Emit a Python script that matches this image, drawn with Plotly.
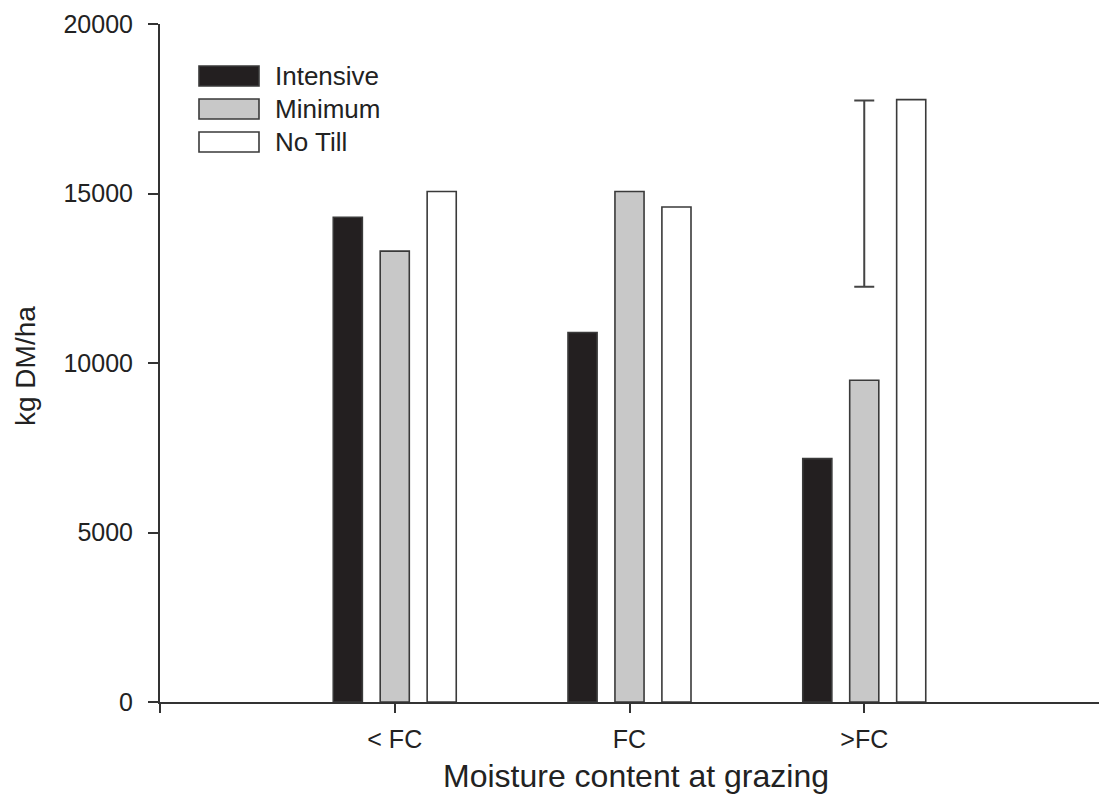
import plotly.graph_objects as go

# ---- data ----
categories = ["< FC", "FC", ">FC"]
cat_pos = [1, 2, 3]
series_names = ["Intensive", "Minimum", "No Till"]
intensive = [14300, 10900, 7180]
minimum = [13300, 15060, 9490]
no_till = [15060, 14600, 17770]
# error bar shown above the >FC group
err_x = [3]
err_low = [12250]
err_high = [17740]
y_ticks = [0, 5000, 10000, 15000, 20000]

fills = ["#231f20", "#c8c8c8", "#ffffff"]
edge = "#3a3a3a"
FONT = "Liberation Sans, Arial, sans-serif"
TXT = "#222222"

W, H = 1099, 794
L, R, T, B = 160, 0, 24, 92
pw, ph = W - L - R, H - T - B

def px_x(x):
    return (x - L) / pw

def px_y(y):
    return 1 - (y - T) / ph

fig = go.Figure()
for name, vals, col in zip(series_names, [intensive, minimum, no_till], fills):
    fig.add_trace(go.Bar(
        x=cat_pos, y=vals, name=name,
        marker=dict(color=col, line=dict(color=edge, width=1.6)),
        showlegend=False,
    ))

mid = [(a + b) / 2 for a, b in zip(err_low, err_high)]
half = [(b - a) / 2 for a, b in zip(err_low, err_high)]
fig.add_trace(go.Scatter(
    x=err_x, y=mid, mode="markers",
    marker=dict(size=1, color="rgba(0,0,0,0)"),
    error_y=dict(type="data", array=half, visible=True, color="#444444",
                 thickness=2, width=10),
    showlegend=False, hoverinfo="skip",
))

# manual legend (large swatches)
shapes = []
annotations = []
row_tops = [66, 99, 132]
for name, col, yt in zip(series_names, fills, row_tops):
    shapes.append(dict(type="rect", xref="paper", yref="paper",
                       x0=px_x(199), x1=px_x(259), y0=px_y(yt + 20), y1=px_y(yt),
                       fillcolor=col, line=dict(color=edge, width=1.6)))
    annotations.append(dict(xref="paper", yref="paper", x=px_x(273), y=px_y(yt + 10),
                            text=name, showarrow=False, xanchor="left", yanchor="middle",
                            font=dict(family=FONT, size=26, color=TXT)))

# axis titles
annotations.append(dict(xref="paper", yref="paper", x=px_x(636), y=px_y(776),
                        text="Moisture content at grazing", showarrow=False,
                        xanchor="center", yanchor="middle",
                        font=dict(family=FONT, size=32, color=TXT)))
annotations.append(dict(xref="paper", yref="paper", x=px_x(25), y=px_y(366),
                        text="kg DM/ha", showarrow=False, textangle=-90,
                        xanchor="center", yanchor="middle",
                        font=dict(family=FONT, size=28, color=TXT)))

fig.update_layout(
    width=W, height=H,
    margin=dict(l=L, r=R, t=T, b=B, autoexpand=False),
    paper_bgcolor="white", plot_bgcolor="white",
    barmode="group", bargap=0.4, bargroupgap=0.38,
    shapes=shapes, annotations=annotations,
    font=dict(family=FONT, size=25, color=TXT),
)
fig.update_xaxes(
    range=[0, 4], tickmode="array", tickvals=[0] + cat_pos, ticktext=[""] + categories,
    showgrid=False, zeroline=False, showline=True, linecolor="#333333", linewidth=2,
    ticks="outside", ticklen=9, tickwidth=2, tickcolor="#333333",
    ticklabelstandoff=5, tickfont=dict(family=FONT, size=25, color=TXT),
)
fig.update_yaxes(
    range=[0, 20000], tickmode="array", tickvals=y_ticks,
    ticktext=[str(v) for v in y_ticks],
    showgrid=False, zeroline=False, showline=True, linecolor="#333333", linewidth=2,
    ticks="outside", ticklen=10, tickwidth=2, tickcolor="#333333",
    ticklabelstandoff=10, tickfont=dict(family=FONT, size=25, color=TXT),
)

fig.write_html("out.html")
